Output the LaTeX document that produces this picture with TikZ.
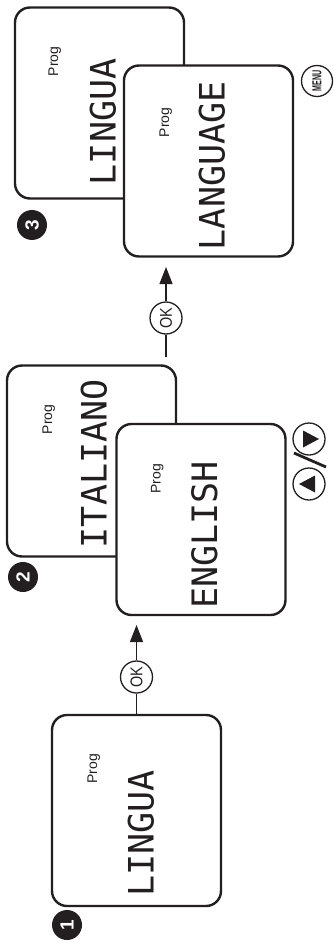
\documentclass[tikz,border=0pt]{standalone}
\usepackage{fontspec}
\setmainfont{Liberation Sans}
\newfontfamily\lcdfont{DejaVu Sans Mono}
\usetikzlibrary{arrows.meta}
\definecolor{ink}{RGB}{35,31,32}
\begin{document}
\begin{tikzpicture}[x=1pt,y=-1pt,
  lcd/.style={draw=ink, line width=2.4pt, rounded corners=15pt, fill=white,
    minimum width=169pt, minimum height=191pt, inner sep=0pt},
  lcdtext/.style={rotate=90, anchor=west, inner sep=0pt,
    font=\lcdfont\fontsize{35}{35}\selectfont, text=ink},
  progtext/.style={rotate=90, inner sep=0pt, font=\fontsize{14}{14}\selectfont, text=ink},
  stepnum/.style={circle, fill=ink, minimum size=30pt, inner sep=0pt, text=white,
    font=\bfseries\fontsize{19}{19}\selectfont, rotate=90},
  btn/.style={circle, draw=ink, line width=1.3pt, minimum size=32pt, inner sep=0pt, fill=white},
  okbtn/.style={btn, rotate=90, font=\fontsize{17}{17}\selectfont, text=ink},
  menubtn/.style={btn, minimum size=31pt, rotate=90, font=\bfseries\fontsize{13}{13}\selectfont, text=ink},
  conn/.style={draw=ink, line width=1.3pt},
  arr/.style={conn, -{Triangle[length=17pt,width=13pt]}}
]
\useasboundingbox (0,0) rectangle (333,944);

% ---------- step 1
\node[lcd] (box1) at (136.5,810.5) {};
\node[progtext] (prog1) at ([shift={(43,55)}]box1.north west) {Prog};
\node[lcdtext] (txt1) at ([shift={(90,183)}]box1.north west) {LINGUA};
\node[stepnum] (n1) at (67,925) {1};
\node[okbtn] (ok1) at (136.5,677) {\scalebox{0.85}[1]{OK}};
\coordinate (tip1) at (136.5,625);
\draw[conn] (box1.north) -- (ok1);
\draw[arr] (ok1) -- (tip1);

% ---------- step 2
\node[lcd] (box2a) at (91.5,461) {};
\node[progtext] (prog2a) at ([shift={(43,55)}]box2a.north west) {Prog};
\node[lcdtext] (txt2a) at ([shift={(88,184)}]box2a.north west) {ITALIANO};
\node[lcd] (box2b) at (201,519.5) {};
\node[progtext] (prog2b) at ([shift={(42,56)}]box2b.north west) {Prog};
\node[lcdtext] (txt2b) at ([shift={(89,186)}]box2b.north west) {ENGLISH};
\node[stepnum] (n2) at (23,577) {2};

\node[btn] (btndown) at (309,439) {};
\node[btn] (btnup) at (309,484) {};
\fill[ink] ([shift={(-6,-8.5)}]btndown.center) -- ([shift={(-6,8.5)}]btndown.center)
  -- ([shift={(10,0)}]btndown.center) -- cycle;
\fill[ink] ([shift={(-10,0)}]btnup.center) -- ([shift={(6,-8.5)}]btnup.center)
  -- ([shift={(6,8.5)}]btnup.center) -- cycle;
\coordinate (sl1) at (294,453);
\coordinate (sl2) at (326,467);
\draw[ink, line width=2.8pt] (sl1) -- (sl2);

\node[okbtn] (ok2) at (166,318) {\scalebox{0.85}[1]{OK}};
\coordinate (tail2) at (166,357);
\coordinate (tip2) at (166,267);
\draw[conn] (tail2) -- (ok2);
\draw[arr] (ok2) -- (tip2);

% ---------- step 3
\node[lcd] (box3a) at (99.5,103) {};
\node[progtext] (prog3a) at ([shift={(41,55)}]box3a.north west) {Prog};
\node[lcdtext] (txt3a) at ([shift={(89,179)}]box3a.north west) {LINGUA};
\node[lcd] (box3b) at (208.5,161) {};
\node[progtext] (prog3b) at ([shift={(43,58)}]box3b.north west) {Prog};
\node[lcdtext] (txt3b) at ([shift={(89,186)}]box3b.north west) {LANGUAGE};
\node[stepnum] (n3) at (32,225) {3};
\node[menubtn] (menu) at (317,81) {\scalebox{0.55}[1]{MENU}};
\end{tikzpicture}
\end{document}
